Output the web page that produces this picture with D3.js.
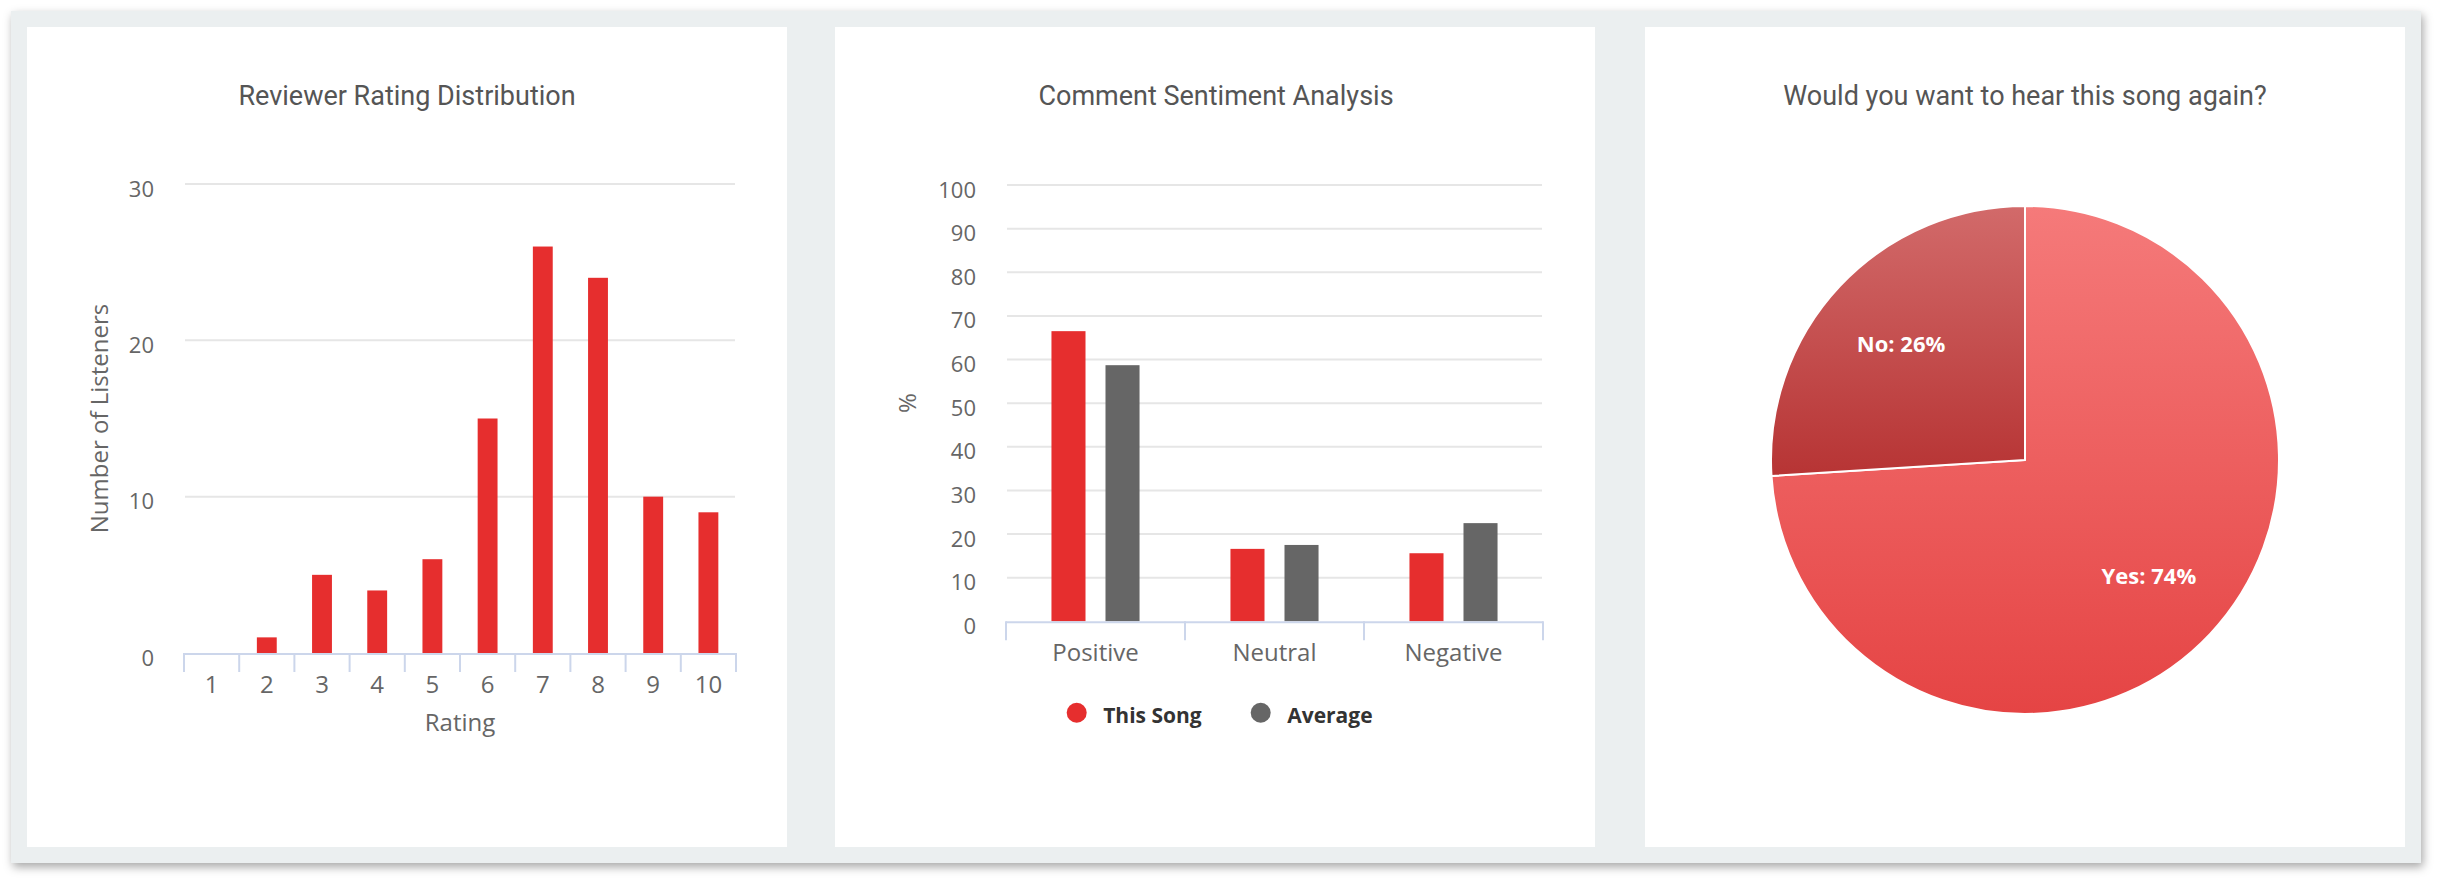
<!DOCTYPE html>
<html><head><meta charset="utf-8">
<script src="https://cdn.jsdelivr.net/npm/d3@7"></script>
<style>
html,body{margin:0;padding:0;background:#fff;width:2437px;height:879px;overflow:hidden}
#frame{position:absolute;left:11px;top:11px;width:2410px;height:852px;background:#ebeff0;box-shadow:2px 4px 9px rgba(0,0,0,0.35)}
.panel{position:absolute;top:16px;width:760px;height:820px;background:#fff}
#chart{position:absolute;left:0;top:0}
</style></head><body>
<div id="frame">
  <div class="panel" style="left:16px"></div>
  <div class="panel" style="left:824px"></div>
  <div class="panel" style="left:1634px"></div>
</div>
<svg id="chart" width="2437" height="879"></svg>
<script>
// ---------- data ----------
const ratingCategories = ["1","2","3","4","5","6","7","8","9","10"];
const ratingCounts = [0, 1, 5, 4, 6, 15, 26, 24, 10, 9];
const ratingTicks = [0, 10, 20, 30];

const sentimentCategories = ["Positive", "Neutral", "Negative"];
const sentimentSeries = ["This Song", "Average"];
const thisSongValues = [66.5, 16.6, 15.6];
const averageValues = [58.7, 17.5, 22.5];
const sentimentTicks = [0, 10, 20, 30, 40, 50, 60, 70, 80, 90, 100];

const pieLabels = ["Yes", "No"];
const pieValues = [74, 26];

const titles = ["Reviewer Rating Distribution", "Comment Sentiment Analysis", "Would you want to hear this song again?"];

// ---------- styles ----------
const RED = "#e62e2e", GRAY = "#666666";
const GRID = "#e6e6e6", AXIS = "#ccd6eb", TXT = "#666666";
const svg = d3.select("#chart");
const FONT = "'Open Sans', sans-serif";

// titles
const panelCenters = [407, 1216, 2025];
svg.selectAll("text.title").data(titles).join("text")
  .attr("class", "title")
  .attr("x", (d, i) => panelCenters[i]).attr("y", 105)
  .attr("text-anchor", "middle")
  .style("font-family", "Roboto, sans-serif").style("font-size", "27px")
  .style("fill", "#555555").text(d => d);

function styleAxisText(sel, size) {
  sel.selectAll("text").style("font-family", FONT).style("font-size", size + "px").style("fill", TXT);
  sel.select(".domain").remove();
  sel.selectAll(".tick line").remove();
}

// ---------- chart 1 ----------
{
  const L = 184, R = 736, T = 184, B = 653;
  const x = d3.scaleBand().domain(ratingCategories).range([L, R]).paddingInner(0.64).paddingOuter(0.32);
  const y = d3.scaleLinear().domain([0, 30]).range([B, T]);
  const g = svg.append("g");

  g.selectAll("line.grid").data(ratingTicks.filter(d => d > 0)).join("line")
    .attr("x1", L + 1).attr("x2", R - 1).attr("y1", d => y(d)).attr("y2", d => y(d))
    .attr("stroke", GRID).attr("stroke-width", 2);

  g.selectAll("rect.bar").data(ratingCounts).join("rect")
    .attr("x", (d, i) => x(ratingCategories[i])).attr("width", x.bandwidth())
    .attr("y", d => y(d)).attr("height", d => y(0) - y(d)).attr("fill", RED);

  // axis line and ticks at category boundaries
  g.append("line").attr("x1", L).attr("x2", R).attr("y1", B + 1).attr("y2", B + 1)
    .attr("stroke", AXIS).attr("stroke-width", 2);
  const bounds = ratingCategories.map(c => x(c) - x.step() * x.paddingInner() / 2).concat([R]);
  g.selectAll("line.tk").data(bounds).join("line")
    .attr("x1", d => d).attr("x2", d => d).attr("y1", B).attr("y2", B + 19)
    .attr("stroke", AXIS).attr("stroke-width", 2);

  const xa = g.append("g").attr("transform", `translate(0,${B})`)
    .call(d3.axisBottom(x).tickSize(0));
  styleAxisText(xa, 24);
  xa.selectAll("text").attr("y", 40).attr("dy", null);

  const ya = g.append("g").attr("transform", `translate(154,0)`)
    .call(d3.axisLeft(y).tickValues(ratingTicks).tickSize(0).tickPadding(0));
  styleAxisText(ya, 22);
  ya.selectAll("text").attr("dy", null).attr("y", 12);

  g.append("text").attr("x", (L + R) / 2).attr("y", 731).attr("text-anchor", "middle")
    .style("font-family", FONT).style("font-size", "24px").style("fill", TXT).text("Rating");
  g.append("text").attr("transform", `translate(98,${(T + B) / 2}) rotate(-90)`)
    .attr("text-anchor", "middle").attr("dominant-baseline", "central")
    .style("font-family", FONT).style("font-size", "24px").style("fill", TXT).text("Number of Listeners");
}

// ---------- chart 2 ----------
{
  const L = 1006, R = 1543, T = 185, B = 621.3;
  const x0 = d3.scaleBand().domain(sentimentCategories).range([L, R]).paddingInner(0.508).paddingOuter(0.254);
  const x1 = d3.scaleBand().domain(sentimentSeries).range([0, x0.bandwidth()]).paddingInner(0.37);
  const y = d3.scaleLinear().domain([0, 100]).range([B, T]);
  const color = d3.scaleOrdinal().domain(sentimentSeries).range([RED, GRAY]);
  const seriesValues = [thisSongValues, averageValues];
  const g = svg.append("g");

  g.selectAll("line.grid").data(sentimentTicks.filter(d => d > 0)).join("line")
    .attr("x1", L + 1).attr("x2", R - 1).attr("y1", d => y(d)).attr("y2", d => y(d))
    .attr("stroke", GRID).attr("stroke-width", 2);

  const flat = [];
  sentimentSeries.forEach((s, si) => sentimentCategories.forEach((c, ci) => flat.push({ s, c, v: seriesValues[si][ci] })));
  g.selectAll("rect.bar").data(flat).join("rect")
    .attr("x", d => x0(d.c) + x1(d.s)).attr("width", x1.bandwidth())
    .attr("y", d => y(d.v)).attr("height", d => y(0) - y(d.v)).attr("fill", d => color(d.s));

  g.append("line").attr("x1", L).attr("x2", R).attr("y1", B + 1).attr("y2", B + 1)
    .attr("stroke", AXIS).attr("stroke-width", 2);
  const bounds = sentimentCategories.map(c => x0(c) - x0.step() * x0.paddingInner() / 2).concat([R]);
  g.selectAll("line.tk").data(bounds).join("line")
    .attr("x1", d => d).attr("x2", d => d).attr("y1", B).attr("y2", B + 19)
    .attr("stroke", AXIS).attr("stroke-width", 2);

  const xa = g.append("g").attr("transform", `translate(0,${B})`)
    .call(d3.axisBottom(x0).tickSize(0));
  styleAxisText(xa, 24);
  xa.selectAll("text").attr("y", 40).attr("dy", null);

  const ya = g.append("g").attr("transform", `translate(976,0)`)
    .call(d3.axisLeft(y).tickValues(sentimentTicks).tickSize(0).tickPadding(0));
  styleAxisText(ya, 22);
  ya.selectAll("text").attr("dy", null).attr("y", 12);

  g.append("text").attr("transform", `translate(906,${(T + B) / 2}) rotate(-90)`)
    .attr("text-anchor", "middle").attr("dominant-baseline", "central")
    .style("font-family", FONT).style("font-size", "24px").style("fill", TXT).text("%");

  // legend
  const legendX = [1076.7, 1260.7];
  const lg = g.selectAll("g.leg").data(sentimentSeries).join("g")
    .attr("transform", (d, i) => `translate(${legendX[i]},712.7)`);
  lg.append("circle").attr("r", 10).attr("fill", d => color(d));
  lg.append("text").attr("x", 26.5).attr("y", 10)
    .style("font-family", FONT).style("font-size", "21px").style("font-weight", "700")
    .style("fill", "#333333").text(d => d);
}

// ---------- chart 3 ----------
{
  const cx = 2025, cy = 460, r = 254;
  const defs = svg.append("defs");
  const grads = [["#f57a7a", "#e54444"], ["#d26a6a", "#b73434"]];
  pieLabels.forEach((lbl, i) => {
    const lgr = defs.append("linearGradient").attr("id", "pg" + i)
      .attr("x1", 0).attr("y1", 0).attr("x2", 0).attr("y2", 1);
    lgr.append("stop").attr("offset", "0%").attr("stop-color", grads[i][0]);
    lgr.append("stop").attr("offset", "100%").attr("stop-color", grads[i][1]);
  });
  const pie = d3.pie().sort(null).value(d => d)(pieValues);
  const arc = d3.arc().innerRadius(0).outerRadius(r);
  const labelArc = d3.arc().innerRadius(170).outerRadius(170);
  const g = svg.append("g").attr("transform", `translate(${cx},${cy})`);
  g.selectAll("path").data(pie).join("path")
    .attr("d", arc).attr("fill", (d, i) => `url(#pg${i})`)
    .attr("stroke", "#ffffff").attr("stroke-width", 2).attr("stroke-linejoin", "round");
  g.selectAll("text").data(pie).join("text")
    .attr("transform", d => `translate(${labelArc.centroid(d)})`)
    .attr("text-anchor", "middle").attr("y", 8)
    .style("font-family", FONT).style("font-size", "22px").style("font-weight", "700")
    .style("fill", "#ffffff")
    .text((d, i) => `${pieLabels[i]}: ${pieValues[i]}%`);
}
</script>
</body></html>
